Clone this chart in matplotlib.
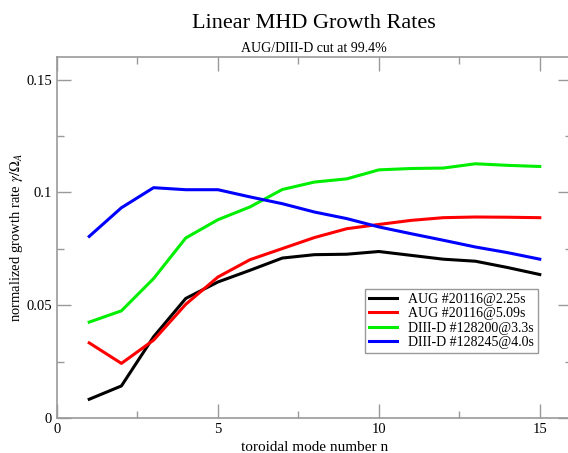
import numpy as np
import matplotlib
matplotlib.use("Agg")
import matplotlib.pyplot as plt

plt.rcParams['font.family'] = ['Liberation Serif', 'DejaVu Serif']
plt.rcParams['mathtext.fontset'] = 'stix'

n = [1, 2, 3, 4, 5, 6, 7, 8, 9, 10, 11, 12, 13, 14, 15]

aug_225 = [0.0083, 0.0142, 0.0360, 0.0530, 0.0603, 0.0655, 0.0709, 0.0724, 0.0726,
           0.0738, 0.0721, 0.0704, 0.0695, 0.0667, 0.0636]
aug_509 = [0.0333, 0.0242, 0.0345, 0.0504, 0.0625, 0.0702, 0.0751, 0.0800, 0.0839,
           0.0858, 0.0876, 0.0888, 0.0891, 0.0890, 0.0888]
d3_128200 = [0.0425, 0.0475, 0.0618, 0.0798, 0.0879, 0.0936, 0.1013, 0.1046, 0.1060,
             0.1100, 0.1106, 0.1108, 0.1127, 0.1120, 0.1115]
d3_128245 = [0.0805, 0.0932, 0.1021, 0.1012, 0.1012, 0.0980, 0.0950, 0.0913, 0.0884,
             0.0847, 0.0817, 0.0788, 0.0758, 0.0733, 0.0704]

labels = ['AUG #20116@2.25s', 'AUG #20116@5.09s', 'DIII-D #128200@3.3s', 'DIII-D #128245@4.0s']
kolory = ['black', '#ff0000', '#00ee00', '#0000ff']

fig = plt.figure(figsize=(5.68, 4.53), dpi=100)
ax = fig.add_axes([0.1004, 0.0773, 0.9066, 0.7967])

for dane, lab, kol in zip([aug_225, aug_509, d3_128200, d3_128245], labels, kolory):
    ax.plot(n, dane, color=kol, lw=2.2, label=lab)

ax.set_xlim(0, 16)
ax.set_ylim(0, 0.16)
ax.set_xticks([0, 5, 10, 15])
ax.set_xticklabels(['0', '5', '10', '15'])
ax.set_xticks([2.5, 7.5, 12.5], minor=True)
ax.set_yticks([0, 0.05, 0.1, 0.15])
ax.set_yticklabels(['0', '0.05', '0.1', '0.15'])
ax.set_yticks([0.025, 0.075, 0.125], minor=True)

szary = '#999999'
for s in ax.spines.values():
    s.set_color(szary)
    s.set_linewidth(1.2)
ax.tick_params(which='both', direction='in', top=True, right=True, color=szary,
               labelsize=10.5, width=1.0)
ax.tick_params(which='major', length=10)
ax.tick_params(which='minor', length=5)

ax.set_xlabel('toroidal mode number n', fontsize=11, labelpad=4)
ax.set_ylabel(r'normalized growth rate $\gamma/\Omega_A$', fontsize=10.5, labelpad=1)

fig.text(0.553, 0.948, 'Linear MHD Growth Rates', ha='center', va='center', fontsize=16)
fig.text(0.553, 0.893, 'AUG/DIII-D cut at 99.4%', ha='center', va='center', fontsize=10)

leg = ax.legend(loc='lower right', bbox_to_anchor=(0.948, 0.16), fontsize=10,
                fancybox=False, framealpha=1, edgecolor=szary, borderpad=0.3,
                labelspacing=0.1, handlelength=2.0, handletextpad=0.8)
leg.get_frame().set_linewidth(1.0)

fig.savefig('out.png', dpi=100)
